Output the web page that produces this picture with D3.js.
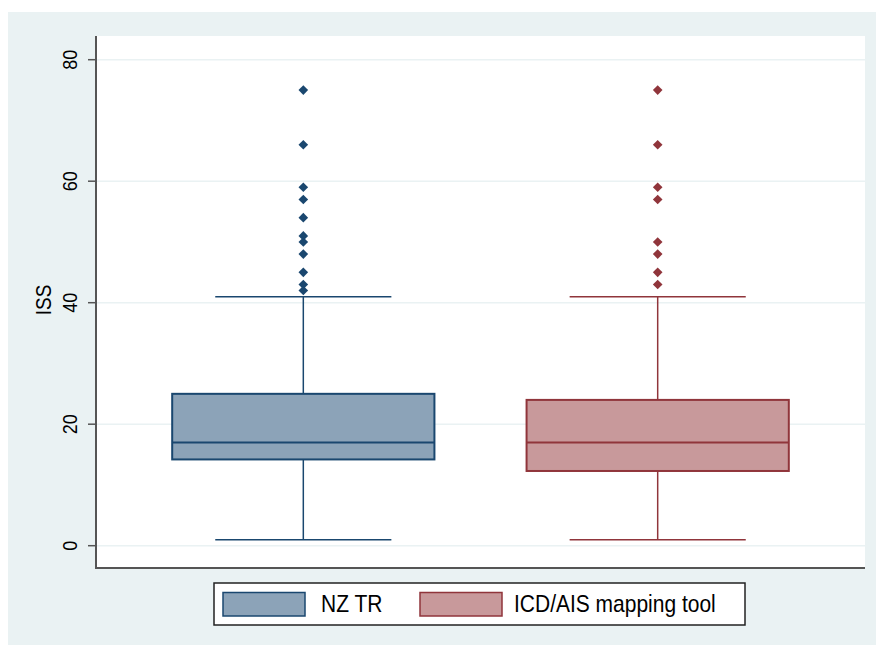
<!DOCTYPE html>
<html><head><meta charset="utf-8">
<script src="https://cdn.jsdelivr.net/npm/d3@7"></script>
<style>html,body{margin:0;padding:0;background:#fff}svg{display:block}text{font-family:"Liberation Sans",Arial,sans-serif;fill:#000}</style>
</head><body>
<script>
const categories = ["NZ TR", "ICD/AIS mapping tool"];
const lowerWhisker = [1, 1];
const q1 = [14.2, 12.3];
const median = [17, 17];
const q3 = [25, 24];
const upperWhisker = [41, 41];
const outliersNZ = [75, 66, 59, 57, 54, 51, 50, 48, 45, 43, 42];
const outliersICD = [75, 66, 59, 57, 50, 48, 45, 43];
const yTicks = [0, 20, 40, 60, 80];
const fills = ["#8ca3b8", "#c8999b"];
const strokes = ["#1a476f", "#90353b"];

const W = 876, H = 645;
const svg = d3.select("body").append("svg").attr("width", W).attr("height", H);
svg.append("rect").attr("x", 8).attr("y", 12).attr("width", W - 8).attr("height", H - 12).attr("fill", "#eaf2f3");

const pl = 96, pr = 865, pt = 36, pb = 568;
svg.append("rect").attr("x", pl).attr("y", pt).attr("width", pr - pl).attr("height", pb - pt).attr("fill", "#fff");

const x = d3.scalePoint().domain(categories).range([pl, pr]).padding(0.585);
const step = x.step();
const y = d3.scaleLinear().domain([0, 80]).range([545.7, 59.7]);

// gridlines
svg.append("g").selectAll("line").data(yTicks).join("line")
  .attr("x1", pl).attr("x2", pr).attr("y1", d => y(d)).attr("y2", d => y(d))
  .attr("stroke", "#eaf2f3").attr("stroke-width", 1.5);

// boxes
const boxW = step * 0.74, capW = step * 0.497;
const outl = [outliersNZ, outliersICD];
categories.forEach((c, i) => {
  const cx = x(c);
  const g = svg.append("g");
  g.append("line").attr("x1", cx).attr("x2", cx).attr("y1", y(lowerWhisker[i])).attr("y2", y(q1[i]))
    .attr("stroke", strokes[i]).attr("stroke-width", 1.5);
  g.append("line").attr("x1", cx).attr("x2", cx).attr("y1", y(q3[i])).attr("y2", y(upperWhisker[i]))
    .attr("stroke", strokes[i]).attr("stroke-width", 1.5);
  [lowerWhisker[i], upperWhisker[i]].forEach(v => {
    g.append("line").attr("x1", cx - capW / 2).attr("x2", cx + capW / 2).attr("y1", y(v)).attr("y2", y(v))
      .attr("stroke", strokes[i]).attr("stroke-width", 1.5);
  });
  g.append("rect").attr("x", cx - boxW / 2).attr("y", y(q3[i])).attr("width", boxW).attr("height", y(q1[i]) - y(q3[i]))
    .attr("fill", fills[i]).attr("stroke", strokes[i]).attr("stroke-width", 2);
  g.append("line").attr("x1", cx - boxW / 2).attr("x2", cx + boxW / 2).attr("y1", y(median[i])).attr("y2", y(median[i]))
    .attr("stroke", strokes[i]).attr("stroke-width", 2);
  g.selectAll("path.o").data(outl[i]).join("path").attr("class", "o")
    .attr("d", d => { const yy = y(d), s = 4.8; return `M${cx},${yy - s}L${cx + s},${yy}L${cx},${yy + s}L${cx - s},${yy}Z`; })
    .attr("fill", strokes[i]);
});

// axes
svg.append("line").attr("x1", pl).attr("x2", pl).attr("y1", pt).attr("y2", pb + 1).attr("stroke", "#555").attr("stroke-width", 2);
svg.append("line").attr("x1", pl - 1).attr("x2", pr).attr("y1", pb).attr("y2", pb).attr("stroke", "#555").attr("stroke-width", 2);
const tg = svg.append("g").selectAll("g").data(yTicks).join("g");
tg.append("line").attr("x1", 88).attr("x2", pl).attr("y1", d => y(d)).attr("y2", d => y(d)).attr("stroke", "#555").attr("stroke-width", 1.5);
tg.append("text").attr("transform", d => `translate(77,${y(d)}) rotate(-90) scale(0.86,1)`)
  .attr("text-anchor", "middle").attr("font-size", 21).text(d => d);
svg.append("text").attr("transform", `translate(51,300) rotate(-90) scale(0.86,1)`)
  .attr("text-anchor", "middle").attr("font-size", 22).text("ISS");

// legend
svg.append("rect").attr("x", 214).attr("y", 583).attr("width", 531).attr("height", 42).attr("fill", "#fff").attr("stroke", "#222").attr("stroke-width", 1.5);
const lx = [223, 420], tx = [321, 514];
categories.forEach((c, i) => {
  svg.append("rect").attr("x", lx[i]).attr("y", 592.5).attr("width", 82).attr("height", 23.5)
    .attr("fill", fills[i]).attr("stroke", strokes[i]).attr("stroke-width", 1.5);
  svg.append("text").attr("transform", `translate(${tx[i]},612) scale(0.875,1)`).attr("font-size", 24).text(c);
});
</script>
</body></html>
